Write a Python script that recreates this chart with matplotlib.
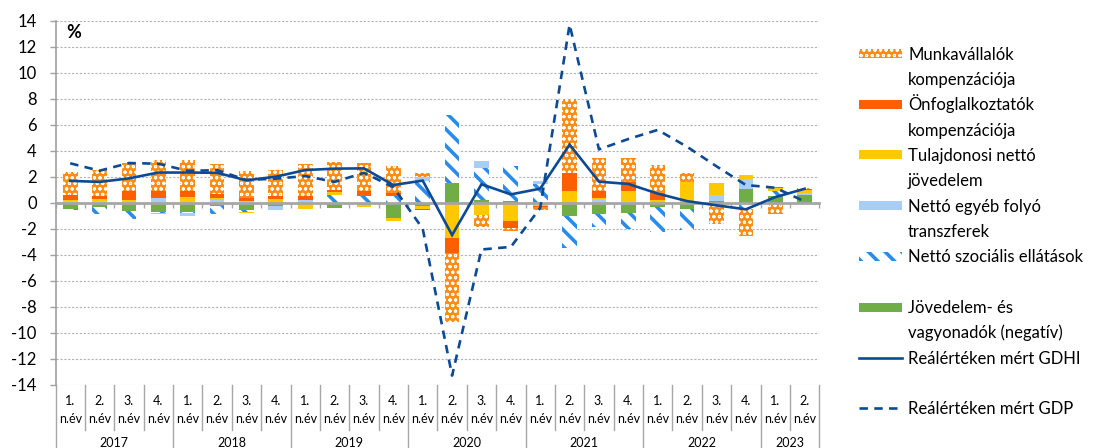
import matplotlib
matplotlib.use("Agg")
import matplotlib as mpl
import matplotlib.pyplot as plt
import numpy as np
from matplotlib.patches import Rectangle
from matplotlib.lines import Line2D
from matplotlib.transforms import blended_transform_factory

plt.rcParams['font.family'] = ['Lato', 'DejaVu Sans']
plt.rcParams['axes.unicode_minus'] = False

# ---------------- data ----------------
years = ["2017", "2018", "2019", "2020", "2021", "2022", "2023"]
quarters = ["1.", "2.", "3.", "4."] * 6 + ["1.", "2."]
quarter_suffix = "n.év"

munkavallalok = [1.75, 1.95, 2.2, 2.35, 2.35, 2.3, 2.1, 2.0, 2.45, 2.13, 2.11, 2.05, 0.3,
                 -5.25, -0.9, -0.18, -0.2, 5.66, 2.5, 1.8, 2.18, 0.65, -1.67, -2.1, -0.85, 0.05]
onfoglalkoztatok = [0.4, 0.3, 0.7, 0.55, 0.5, 0.35, 0.2, 0.25, 0.35, 0.15, 0.41, 0.26, -0.15,
                    -1.16, 0.0, -0.56, -0.13, 1.41, 0.58, 0.72, 0.52, 0.05, 0.0, 0.0, 0.13, 0.07]
tulajdonosi = [0.1, 0.15, 0.1, -0.1, 0.4, 0.15, -0.08, 0.25, -0.45, 0.23, -0.18, -0.18, -0.2,
               -2.74, -0.95, -1.41, -0.23, 0.9, 0.05, 0.77, 0.2, 1.56, 0.9, 0.28, 0.18, 0.26]
egyeb_transzfer = [0.1, 0.1, 0.08, 0.35, -0.2, 0.2, 0.15, -0.35, 0.2, 0.0, 0.0, 0.0, 0.35,
                   0.0, 0.51, 0.0, 0.2, 0.0, 0.28, 0.13, 0.0, 0.0, 0.46, 0.8, 0.0, 0.13]
szocialis = [-0.1, -0.55, -0.6, -0.1, -0.05, -0.6, -0.13, 0.0, 0.0, 0.59, 0.51, 0.51, 1.65,
             5.2, 2.49, 2.67, 1.45, -2.45, -0.98, -1.23, -1.89, -1.59, 0.0, -0.5, 0.41, 0.0]
adok = [-0.5, -0.3, -0.65, -0.7, -0.75, -0.25, -0.55, -0.25, 0.0, -0.44, -0.18, -1.2, -0.25,
        1.54, 0.2, 0.15, 0.0, -1.0, -0.87, -0.77, -0.36, -0.51, 0.13, 1.05, 0.51, 0.59]

gdhi = [1.68, 1.6, 1.87, 2.32, 2.32, 2.3, 1.72, 2.0, 2.51, 2.62, 2.64, 1.36, 1.7, -2.49,
        1.42, 0.64, 1.08, 4.47, 1.62, 1.44, 0.7, 0.12, -0.2, -0.51, 0.43, 1.07]
gdp = [3.03, 2.46, 3.05, 3.0, 2.45, 2.5, 1.75, 1.85, 2.05, 1.6, 2.3, 1.2, -2.0, -13.3,
       -3.6, -3.4, -0.4, 13.7, 4.1, 4.9, 5.6, 4.3, 2.8, 1.36, 1.15, 0.1]

labels = ["Munkavállalók\nkompenzációja", "Önfoglalkoztatók\nkompenzációja",
          "Tulajdonosi nettó\njövedelem", "Nettó egyéb folyó\ntranszferek",
          "Nettó szociális ellátások", "Jövedelem- és\nvagyonadók (negatív)",
          "Reálértéken mért GDHI", "Reálértéken mért GDP"]

# ---------------- styles ----------------
LINE_C = '#0D4A96'
styles = {
    'orange': dict(facecolor='#FF8C14', edgecolor='white', hatch='ooo', linewidth=0),
    'red': dict(facecolor='#FF5F00', edgecolor='#FF5F00', linewidth=0),
    'yellow': dict(facecolor='#FFC800', edgecolor='#FFC800', linewidth=0),
    'lblue': dict(facecolor='#A8CEF5', edgecolor='#A8CEF5', linewidth=0),
    'hatch': dict(facecolor='white', edgecolor='#2A8BEA', hatch='\\\\', linewidth=0),
    'green': dict(facecolor='#70AD47', edgecolor='#70AD47', linewidth=0),
}
hatch_lw = {'orange': 0.75, 'hatch': 2.6}

W, H = 1104, 448
fig = plt.figure(figsize=(W / 100, H / 100), dpi=100)
AX_L, AX_R, AX_T, AX_B = 55.5, 819.3, 20.7, 384.7
ax = fig.add_axes([AX_L / W, (H - AX_B) / H, (AX_R - AX_L) / W, (AX_B - AX_T) / H])

n = len(quarters)
x = np.arange(n)

stack = [('green', adok), ('hatch', szocialis), ('lblue', egyeb_transzfer),
         ('yellow', tulajdonosi), ('red', onfoglalkoztatok), ('orange', munkavallalok)]
pos = np.zeros(n)
neg = np.zeros(n)
for key, vals in stack:
    v = np.array(vals, dtype=float)
    b = np.where(v >= 0, pos, neg)
    with mpl.rc_context({'hatch.linewidth': hatch_lw.get(key, 1.0)}):
        bars = ax.bar(x, v, 0.5, bottom=b, zorder=2, **styles[key])
    if key in hatch_lw:
        for p in bars:
            if hasattr(p, 'set_hatch_linewidth'):
                p.set_hatch_linewidth(hatch_lw[key])
    pos += np.clip(v, 0, None)
    neg += np.clip(v, None, 0)

ax.plot(x, gdhi, color=LINE_C, lw=1.9, zorder=4, solid_joinstyle='miter')
ax.plot(x, gdp, color=LINE_C, lw=1.9, ls=(0, (3.2, 2.4)), zorder=4)

ax.set_xlim(-0.5, n - 0.5)
ax.set_ylim(-14, 14)
ax.set_yticks(range(-14, 15, 2))
ax.grid(axis='y', color='#B3B3B3', linestyle=(0, (2, 1.5)), lw=0.8, zorder=0)
ax.set_axisbelow(True)
for s in ['top', 'right']:
    ax.spines[s].set_visible(False)
ax.spines['left'].set_color('#A0A0A0')
ax.spines['left'].set_linewidth(1.2)
ax.spines['bottom'].set_position(('data', 0))
ax.spines['bottom'].set_color('#A6A6A6')
ax.spines['bottom'].set_linewidth(2.0)
ax.spines['bottom'].set_zorder(3)
ax.set_xticks(np.arange(-0.5, n, 1.0))
ax.set_xticklabels([])
ax.tick_params(axis='x', length=3.5, width=1, color='#A6A6A6', direction='out')
ax.tick_params(axis='y', length=4.5, width=1, color='#A0A0A0', labelsize=12, pad=9,
               labelcolor='black')

# category axis (two levels)
blend = blended_transform_factory(ax.transData, ax.transAxes)
def afrac(py):
    return (AX_B - py) / (AX_B - AX_T)

for k in range(n + 1):
    xb = k - 0.5
    year_edge = (k % 4 == 0) or k == n
    ybot = 448 if year_edge else 430
    ax.plot([xb, xb], [afrac(AX_B), afrac(ybot)], transform=blend, color='#A6A6A6',
            lw=1, clip_on=False)
for i, q in enumerate(quarters):
    ax.text(i, afrac(401), q, transform=blend, ha='center', va='center', fontsize=9)
    ax.text(i, afrac(419), quarter_suffix, transform=blend, ha='center', va='center', fontsize=9)
for j, yr in enumerate(years):
    start = 4 * j
    end = min(4 * j + 4, n)
    ax.text((start + end - 1) / 2, afrac(443), yr, transform=blend, ha='center',
            va='center', fontsize=9)

fig.text(66 / W, 1 - 32 / H, '%', fontsize=13, fontweight='bold', va='center', ha='left')

# legend (manual, matches reference layout)
def fx(px):
    return px / W
def fy(py):
    return 1 - py / H

leg_keys = ['orange', 'red', 'yellow', 'lblue', 'hatch', 'green']
for i, lab in enumerate(labels):
    y1 = 53.5 + 50.7 * i
    if i < 6:
        key = leg_keys[i]
        with mpl.rc_context({'hatch.linewidth': hatch_lw.get(key, 1.0)}):
            r = Rectangle((fx(859), fy(y1 + 4.5)), 43 / W, 9 / H, transform=fig.transFigure,
                          **styles[key])
        if key in hatch_lw and hasattr(r, 'set_hatch_linewidth'):
            r.set_hatch_linewidth(hatch_lw[key])
        fig.add_artist(r)
    else:
        ls = '-' if i == 6 else (0, (3.2, 2.4))
        fig.add_artist(Line2D([fx(859), fx(902)], [fy(y1), fy(y1)], transform=fig.transFigure,
                              color=LINE_C, lw=1.9, ls=ls))
    for j, line in enumerate(lab.split('\n')):
        fig.text(fx(908), fy(y1 + 25.3 * j + 6), line, fontsize=12, va='baseline', ha='left')

fig.savefig('out.png', dpi=100)
